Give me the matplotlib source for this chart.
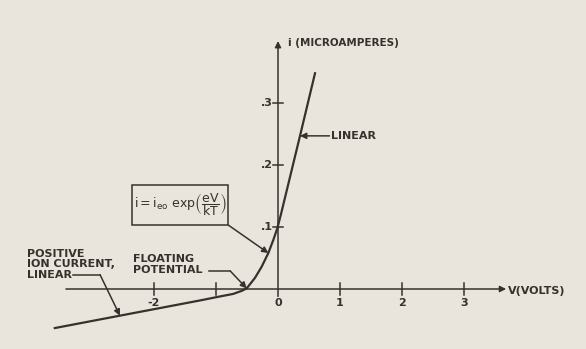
import matplotlib
matplotlib.use("Agg")
import matplotlib.pyplot as plt
from matplotlib.patches import Rectangle

# probe characteristic: volts vs microamperes
volts = [-3.60, -2.55, -1.26, -0.935, -0.726, -0.585, -0.505, -0.371, -0.263,
         -0.156, -0.076, -0.011, 0.044, 0.355, 0.597]
current = [-0.063, -0.043, -0.0185, -0.012, -0.008, -0.003, 0.001, 0.018, 0.036,
           0.058, 0.079, 0.098, 0.119, 0.247, 0.348]

x_ticks = [-2, -1, 0, 1, 2, 3]
x_tick_labels = ["-2", "", "0", "1", "2", "3"]
y_ticks = [0.1, 0.2, 0.3]
y_tick_labels = [".1", ".2", ".3"]

# indices of the curve points the callouts point at
ION_PT, FLOAT_PT, EXP_PT, LIN_PT = 1, 6, 9, 13

ink = "#35312d"
paper = "#e9e5dd"

plt.rcParams["font.family"] = "DejaVu Sans"
plt.rcParams["mathtext.fontset"] = "dejavusans"

fig = plt.figure(figsize=(5.86, 3.49), dpi=100, facecolor=paper)
ax = fig.add_axes([0, 0, 1, 1])
ax.set_facecolor(paper)
ax.set_xlim(-278 / 62, 308 / 62)
ax.set_ylim(-60 / 620, 289 / 620)
ax.axis("off")

arrow = dict(arrowstyle="-|>", color=ink, lw=1.1, mutation_scale=9,
             shrinkA=0, shrinkB=0)
lbl = dict(color=ink, fontsize=8, fontweight="bold")

# axes with arrowheads
ax.annotate("", xy=(3.68, 0), xytext=(-3.42, 0), arrowprops=arrow)
ax.annotate("", xy=(0, 0.40), xytext=(0, -0.012), arrowprops=arrow)
ax.text(3.71, -0.004, "V(VOLTS)", va="center", ha="left", **lbl)
ax.text(0.16, 0.396, "i (MICROAMPERES)", va="center", ha="left",
        color=ink, fontsize=7.5, fontweight="bold")

# tick marks and labels
for v, lab in zip(x_ticks, x_tick_labels):
    if v != 0:
        ax.plot([v, v], [-0.010, 0.010], color=ink, lw=1.1)
    ax.text(v, -0.022, lab, ha="center", va="center", **lbl)
for y, lab in zip(y_ticks, y_tick_labels):
    ax.plot([-0.08, 0.08], [y, y], color=ink, lw=1.1)
    ax.text(-0.09, y, lab, ha="right", va="center", **lbl)

# the probe curve
ax.plot(volts, current, color=ink, lw=1.6, solid_joinstyle="round")

# LINEAR callout
ax.annotate("", xy=(volts[LIN_PT], current[LIN_PT]), xytext=(0.83, 0.247),
            arrowprops=arrow)
ax.text(0.85, 0.246, "LINEAR", va="center", ha="left", **lbl)

# boxed formula
ax.add_patch(Rectangle((-2.35, 0.103), 1.55, 0.0645, fill=False, ec=ink, lw=1.1))
ax.text(-1.575, 0.1355,
        r"$\mathrm{i = i_{eo}\ exp}\left(\dfrac{\mathrm{eV}}{\mathrm{kT}}\right)$",
        color=ink, fontsize=9, ha="center", va="center")
ax.annotate("", xy=(volts[EXP_PT], current[EXP_PT]), xytext=(-0.80, 0.103),
            arrowprops=arrow)

# floating potential callout
ax.text(-2.34, 0.040, "FLOATING\nPOTENTIAL", va="center", ha="left",
        linespacing=1.1, **lbl)
ax.plot([-1.12, -0.77], [0.029, 0.029], color=ink, lw=1.1)
ax.annotate("", xy=(volts[FLOAT_PT], current[FLOAT_PT]), xytext=(-0.77, 0.029),
            arrowprops=arrow)

# ion current callout
ax.text(-4.05, 0.040, "POSITIVE\nION CURRENT,\nLINEAR", va="center", ha="left",
        linespacing=1.05, **lbl)
ax.plot([-3.30, -2.87], [0.023, 0.023], color=ink, lw=1.1)
ax.annotate("", xy=(volts[ION_PT], current[ION_PT]), xytext=(-2.87, 0.023),
            arrowprops=arrow)

fig.savefig("out.png", dpi=100, facecolor=paper)
